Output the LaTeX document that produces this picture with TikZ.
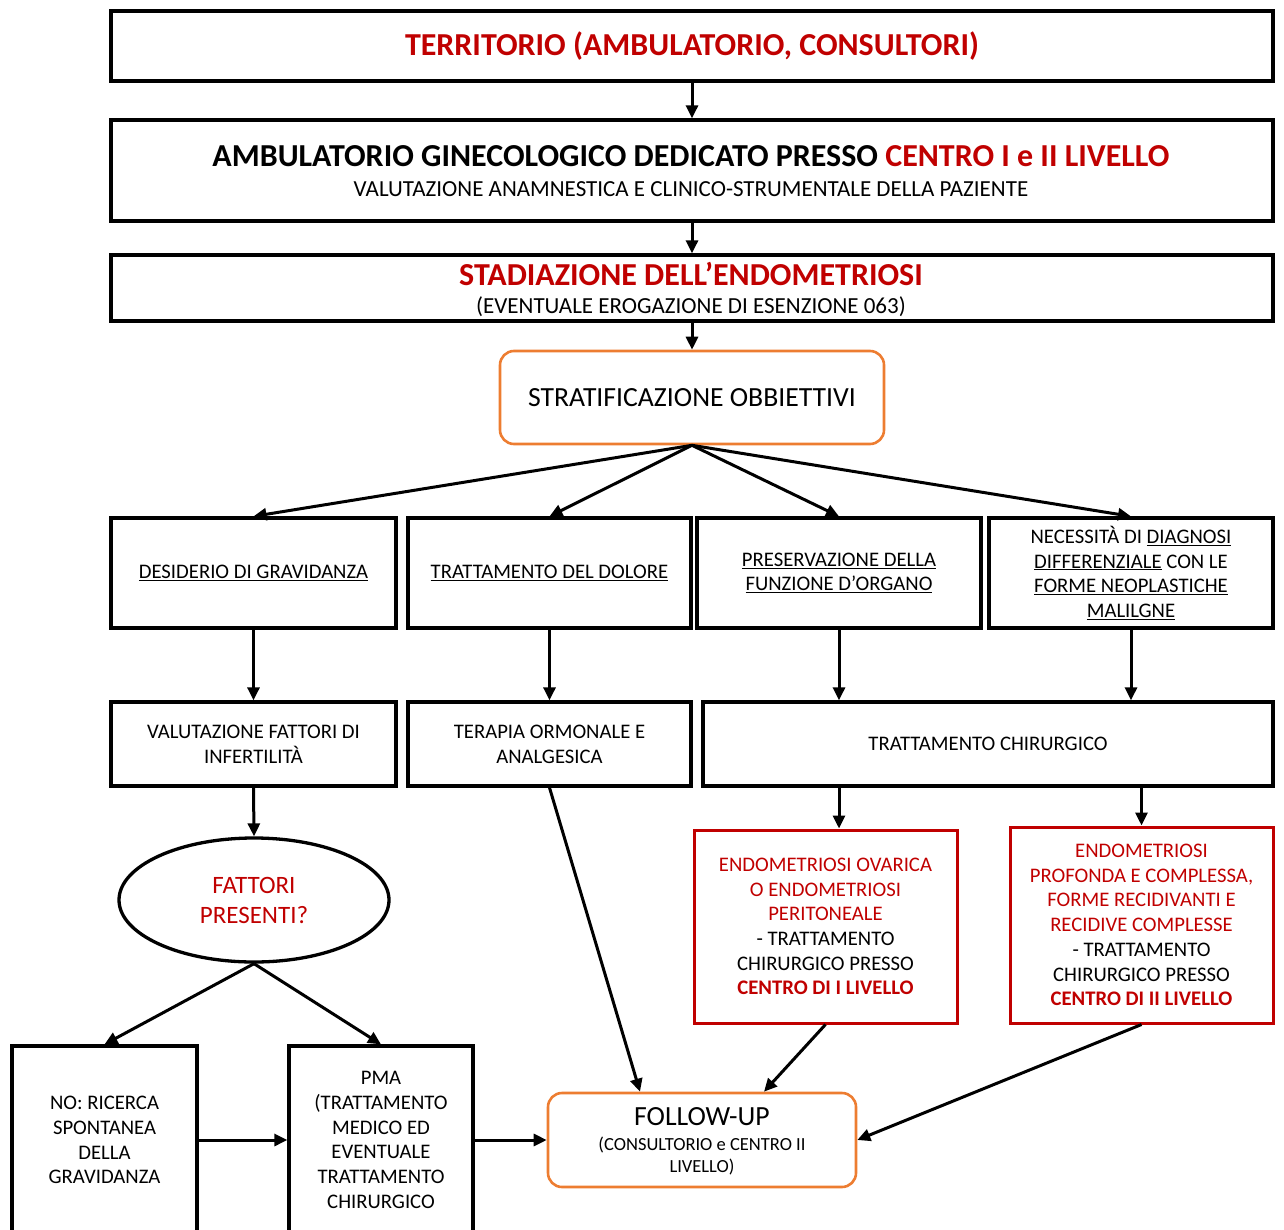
\documentclass[tikz,border=0pt]{standalone}
\usepackage{fontspec}
\setmainfont{Carlito}
\usetikzlibrary{arrows.meta,shapes.geometric}
\definecolor{dred}{HTML}{C00000}
\definecolor{orng}{HTML}{ED7D31}
\newcommand\bx[7]{\node[#2,minimum width={#5-#3},minimum height={#6-#4}] (#1) at ({(#3+#5)/2},{(#4+#6)/2}) {#7};}
\begin{document}
\begin{tikzpicture}[x=1pt,y=-1pt,
 box/.style={draw=black,line width=3.3pt,rectangle,inner sep=0pt,align=center,font=\fontsize{20.7}{24.7}\selectfont},
 rbox/.style={box,draw=dred,line width=3pt},
 obox/.style={box,draw=orng,line width=2.6pt,rounded corners=14pt},
 txt/.style={inner sep=0pt,align=center},
 arr/.style={line width=3pt,-{Triangle[length=13pt,width=12pt]}},
]
\useasboundingbox (0,0) rectangle (1284,1230);
% top boxes
\bx{terr}{box}{111}{11}{1273}{81}{\fontsize{32}{38}\selectfont\bfseries\color{dred}TERRITORIO (AMBULATORIO, CONSULTORI)}
\bx{amb}{box}{111}{120}{1273}{221}{}
\node[txt,font=\fontsize{32}{38}\selectfont\bfseries] (ambt1) at (691,156) {AMBULATORIO GINECOLOGICO DEDICATO PRESSO \textcolor{dred}{CENTRO I e II LIVELLO}};
\node[txt,font=\fontsize{23}{27}\selectfont] (ambt2) at (691,189) {VALUTAZIONE ANAMNESTICA E CLINICO-STRUMENTALE DELLA PAZIENTE};
\bx{stad}{box}{111}{255}{1273}{321}{}
\node[txt,font=\fontsize{32}{38}\selectfont\bfseries,text=dred] (stadt1) at (691,274) {STADIAZIONE DELL’ENDOMETRIOSI};
\node[txt,font=\fontsize{23}{27}\selectfont] (stadt2) at (691,307) {(EVENTUALE EROGAZIONE DI ESENZIONE 063)};
\bx{strat}{obox}{500}{351}{884}{444}{\fontsize{27.7}{32}\selectfont STRATIFICAZIONE OBBIETTIVI}
% row 1
\bx{A}{box}{111}{518}{396}{628}{\underline{DESIDERIO DI GRAVIDANZA}}
\bx{B}{box}{408}{518}{691}{628}{\underline{TRATTAMENTO DEL DOLORE}}
\bx{C}{box}{697}{518}{981}{628}{\underline{PRESERVAZIONE DELLA}\\\underline{FUNZIONE D’ORGANO}}
\bx{D}{box}{989}{518}{1273}{628}{NECESSITÀ DI \underline{DIAGNOSI}\\\underline{DIFFERENZIALE} CON LE\\\underline{FORME NEOPLASTICHE}\\\underline{MALILGNE}}
% row 2
\bx{E}{box}{111}{702}{396}{786}{VALUTAZIONE FATTORI DI\\INFERTILITÀ}
\bx{F}{box}{408}{702}{691}{786}{TERAPIA ORMONALE E\\ANALGESICA}
\bx{G}{box}{703}{702}{1273}{786}{TRATTAMENTO CHIRURGICO}
% ellipse
\node[ellipse,draw=black,line width=3.3pt,minimum width=270,minimum height=124,inner sep=0pt,align=center,text=dred,font=\fontsize{25}{30}\selectfont] (ell) at (254,900) {FATTORI\\PRESENTI?};
% red boxes
\bx{H}{rbox}{694}{830}{957}{1023}{\textcolor{dred}{ENDOMETRIOSI OVARICA}\\\textcolor{dred}{O ENDOMETRIOSI}\\\textcolor{dred}{PERITONEALE}\\- TRATTAMENTO\\CHIRURGICO PRESSO\\\textcolor{dred}{\bfseries CENTRO DI I LIVELLO}}
\bx{I}{rbox}{1010}{827}{1273}{1023}{\textcolor{dred}{ENDOMETRIOSI}\\\textcolor{dred}{PROFONDA E COMPLESSA,}\\\textcolor{dred}{FORME RECIDIVANTI E}\\\textcolor{dred}{RECIDIVE COMPLESSE}\\- TRATTAMENTO\\CHIRURGICO PRESSO\\\textcolor{dred}{\bfseries CENTRO DI II LIVELLO}}
% bottom boxes
\bx{J}{box}{12}{1046}{197}{1234}{NO: RICERCA\\SPONTANEA\\DELLA\\GRAVIDANZA}
\bx{K}{box}{289}{1046}{473}{1234}{PMA\\(TRATTAMENTO\\MEDICO ED\\EVENTUALE\\TRATTAMENTO\\CHIRURGICO}
\bx{FU}{obox}{548}{1093}{856}{1187}{}
\node[txt,font=\fontsize{27.7}{32}\selectfont] (fut1) at (702,1117) {FOLLOW-UP};
\node[txt,font=\fontsize{18.5}{22}\selectfont] (fut2) at (702,1156) {(CONSULTORIO e CENTRO II\\LIVELLO)};
% arrows
\draw[arr] (terr.south) -- (amb.north);
\draw[arr] (amb.south) -- (stad.north);
\draw[arr] (stad.south) -- (strat.north);
\draw[arr] (strat.south) -- (A.north);
\draw[arr] (strat.south) -- (B.north);
\draw[arr] (strat.south) -- (C.north);
\draw[arr] (strat.south) -- (D.north);
\draw[arr] (A.south) -- (E.north);
\draw[arr] (B.south) -- (F.north);
\draw[arr] (C.south) -- (C.south |- G.north);
\draw[arr] (D.south) -- (D.south |- G.north);
\draw[arr] (E.south) -- (ell.north);
\draw[arr] (ell.south) -- (J.north);
\draw[arr] (ell.south) -- (K.north);
\draw[arr] (J.east) -- (K.west);
\draw[arr] (K.east) -- (FU.west);
\draw[arr] (F.south) -- ([xshift=-62pt]FU.north);
\draw[arr] (G.south -| C.south) -- (C.south |- H.north);
\draw[arr] (G.south -| I.north) -- (I.north);
\draw[arr] (H.south) -- ([xshift=62pt]FU.north);
\draw[arr] (I.south) -- (FU.east);
\end{tikzpicture}
\end{document}
